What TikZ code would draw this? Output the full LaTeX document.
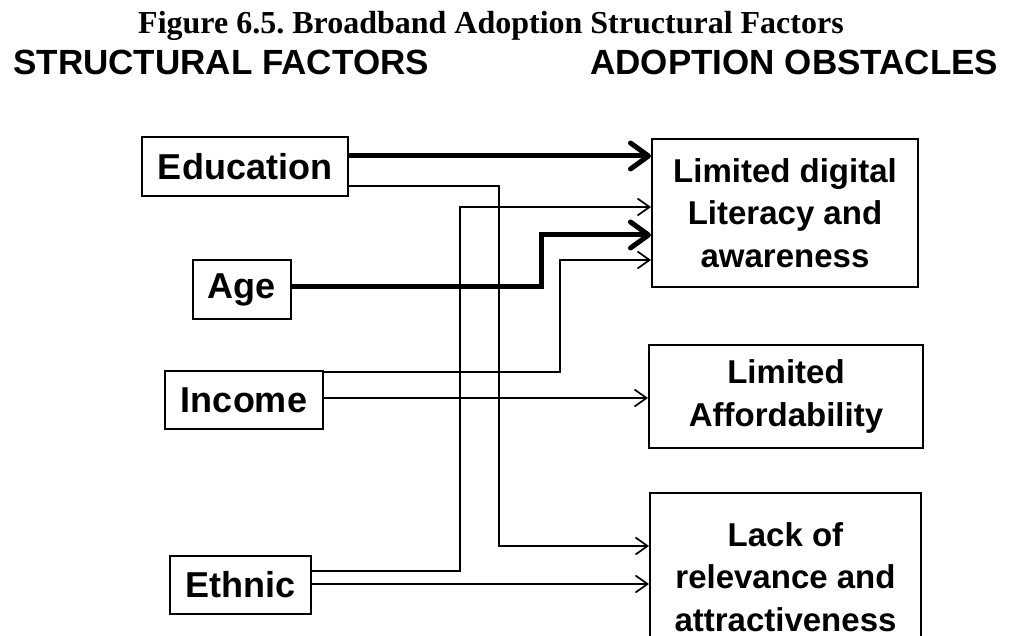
\documentclass[tikz,border=0pt]{standalone}
\usepackage{fontspec}
\setmainfont{Liberation Serif}
\setsansfont{Liberation Sans}
\usetikzlibrary{arrows.meta}
\frenchspacing

\tikzset{
	factor/.style={draw, line width=1pt, inner sep=0pt, align=center, font=\sffamily\bfseries\fontsize{18}{21.25}\selectfont},
	obstacle/.style={factor, font=\sffamily\bfseries\fontsize{16.5}{21.25}\selectfont},
	heading/.style={anchor=base west, inner sep=0pt, font=\sffamily\bfseries\fontsize{17.5}{21}\selectfont},
	strong/.style={line width=2.5pt, -{Straight Barb[length=9pt,width=13pt,round]}},
	weak/.style={line width=0.85pt, -{Straight Barb[length=6pt,width=8.5pt]}},
}

\begin{document}
\begin{tikzpicture}[x=0.5pt,y=-0.5pt]
	\clip (0,0) rectangle (1019,636);
	\node[anchor=base, inner sep=0pt, font=\bfseries\fontsize{16}{19}\selectfont] (title) at (491,34) {Figure 6.5. Broadband Adoption Structural Factors};
	\node[heading] (headL) at (13,75) {STRUCTURAL FACTORS};
	\node[heading] (headR) at (590,75) {ADOPTION OBSTACLES};
	% structural factors
	\node[factor, minimum width=103pt, minimum height=29.5pt] (edu) at (245,166.5) {Education};
	\node[factor, minimum width=49pt, minimum height=29.5pt] (age) at (242,289.5) {Age};
	\node[factor, minimum width=79pt, minimum height=29pt] (inc) at (244,400) {Income};
	\node[factor, minimum width=70.5pt, minimum height=29pt] (eth) at (240.5,585) {Ethnic};
	% adoption obstacles
	\node[obstacle, minimum width=133pt, minimum height=74pt] (lit) at (785,213) {Limited digital\\Literacy and\\awareness};
	\node[obstacle, minimum width=137pt, minimum height=51.5pt] (aff) at (786,396.5) {Limited\\Affordability};
	\node[obstacle, minimum width=135.5pt, minimum height=84pt] (rel) at (785.5,577) {Lack of\\relevance and\\attractiveness};
	% vertical runs
	\coordinate (busE) at (460,0);
	\coordinate (busD) at (499,0);
	\coordinate (busA) at (541,0);
	\coordinate (busI) at (560,0);
	% ports
	\coordinate (eduS) at ([yshift=5.25pt]edu.east);
	\coordinate (eduW) at ([yshift=-9.75pt]edu.east);
	\coordinate (ageS) at ([yshift=1.25pt]age.east);
	\coordinate (incW) at ([yshift=14pt]inc.east);
	\coordinate (incA) at ([yshift=1pt]inc.east);
	\coordinate (ethW) at ([yshift=7pt]eth.east);
	\coordinate (ethR) at ([yshift=0.5pt]eth.east);
	\coordinate (litT) at ([yshift=3pt]lit.west);
	\coordinate (litA) at ([yshift=-11pt]lit.west);
	\coordinate (litI) at ([yshift=-23.5pt]lit.west);
	\coordinate (relD) at ([yshift=15.5pt]rel.west);
	\draw[strong] (eduS) -- (eduS -| lit.west);
	\draw[weak] (eduW) -- (eduW -| busD) |- (relD);
	\draw[strong] (ageS) -- (ageS -| busA) |- (litA);
	\draw[weak] (incW) -- (incW -| busI) |- (litI);
	\draw[weak] (incA) -- (incA -| aff.west);
	\draw[weak] (ethW) -- (ethW -| busE) |- (litT);
	\draw[weak] (ethR) -- (ethR -| rel.west);
\end{tikzpicture}
\end{document}
